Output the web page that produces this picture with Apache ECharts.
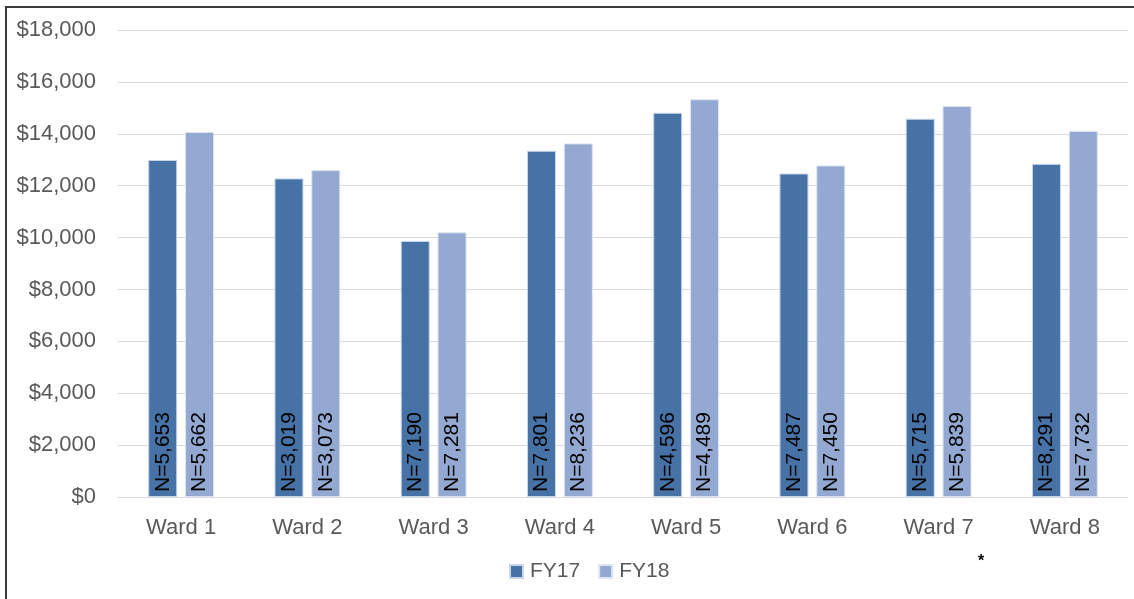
<!DOCTYPE html>
<html>
<head>
<meta charset="utf-8">
<script src="https://cdn.jsdelivr.net/npm/echarts@6/dist/echarts.min.js"></script>
<style>
  html, body { margin: 0; padding: 0; background: #fff; }
  #frame {
    position: absolute; left: 5px; top: 6px; width: 1129px; height: 593px;
    border-left: 2px solid #3a3a3a; border-top: 2px solid #3a3a3a;
  }
  #myChart { position: absolute; left: 0; top: 0; width: 1134px; height: 599px; }
</style>
</head>
<body>
<div id="frame"></div>
<div id="myChart"></div>
<script>
// data
var wards = ["Ward 1", "Ward 2", "Ward 3", "Ward 4", "Ward 5", "Ward 6", "Ward 7", "Ward 8"];
var fy17 = [12990, 12280, 9870, 13345, 14810, 12470, 14580, 12840];
var fy18 = [14070, 12600, 10200, 13630, 15330, 12780, 15070, 14110];
var n17 = ["5,653", "3,019", "7,190", "7,801", "4,596", "7,487", "5,715", "8,291"];
var n18 = ["5,662", "3,073", "7,281", "8,236", "4,489", "7,450", "5,839", "7,732"];

var font = "'Liberation Sans', Arial, sans-serif";
var chartDom = echarts.init(document.getElementById("myChart"));

// label inside the bar, reading upward
function nLabel(counts) {
  return {
    show: true,
    position: "insideBottom",
    rotate: 90,
    align: "left",
    verticalAlign: "middle",
    distance: 5,
    color: "#000",
    fontFamily: font,
    fontSize: 21,
    formatter: function (p) {
      return "N=" + counts[p.dataIndex];
    },
  };
}

var option = {
  animation: false,
  textStyle: { fontFamily: font },
  grid: { left: 118, right: 6, top: 30, bottom: 102, containLabel: false },
  legend: {
    bottom: 12,
    left: 504,
    itemWidth: 13,
    itemHeight: 13,
    itemGap: 18,
    icon: "rect",
    textStyle: { color: "#595959", fontSize: 21, fontFamily: font, padding: [0, 0, 0, 2] },
    data: ["FY17", "FY18"],
  },
  xAxis: {
    type: "category",
    data: wards,
    axisTick: { show: false },
    axisLine: { lineStyle: { color: "#d9d9d9", width: 1 } },
    axisLabel: { color: "#595959", fontSize: 22, margin: 20, fontFamily: font },
  },
  yAxis: {
    type: "value",
    min: 0,
    max: 18000,
    interval: 2000,
    axisLine: { show: false },
    axisTick: { show: false },
    splitLine: { lineStyle: { color: "#d9d9d9", width: 1 } },
    axisLabel: {
      color: "#595959",
      fontSize: 22,
      margin: 22,
      fontFamily: font,
      formatter: function (v) {
        return "$" + v.toLocaleString("en-US");
      },
    },
  },
  series: [
    {
      name: "FY17",
      type: "bar",
      barWidth: 29,
      barGap: "27%",
      itemStyle: { color: "#4672a6", borderColor: "#c9d6ea", borderWidth: 1 },
      label: nLabel(n17),
      data: fy17,
    },
    {
      name: "FY18",
      type: "bar",
      barWidth: 29,
      itemStyle: { color: "#94a9d2", borderColor: "#dde5f2", borderWidth: 1 },
      label: nLabel(n18),
      data: fy18,
    },
  ],
  graphic: [
    {
      type: "text",
      left: 978,
      top: 554,
      style: { text: "*", fill: "#000", font: "bold 16px " + font },
    },
  ],
};
chartDom.setOption(option);
</script>
</body>
</html>
